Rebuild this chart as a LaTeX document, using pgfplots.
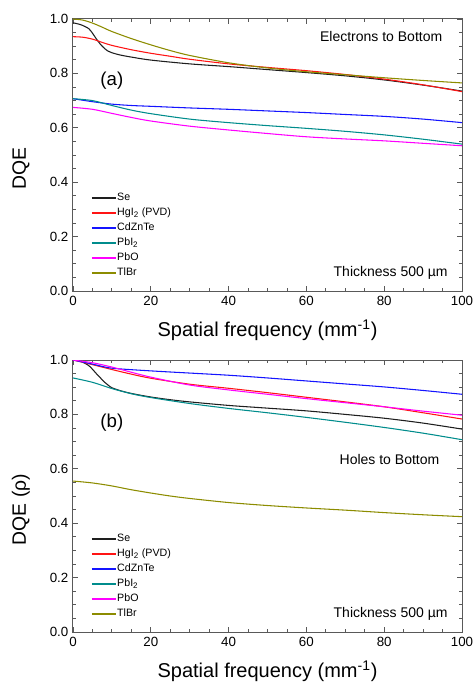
\documentclass[border=0pt]{standalone}
\usepackage{fontspec}
\setmainfont{Liberation Sans}
\usepackage{pgfplots}
\pgfplotsset{compat=1.18}

\definecolor{cSe}{RGB}{30,30,30}
\definecolor{cHg}{RGB}{255,20,20}
\definecolor{cCd}{RGB}{20,20,255}
\definecolor{cPbI}{RGB}{0,140,140}
\definecolor{cPbO}{RGB}{255,0,255}
\definecolor{cTl}{RGB}{140,140,0}

\pgfplotsset{
  dqe/.style={
    scale only axis, width=291.75pt, height=204pt,
    xmin=0, xmax=100, ymin=0, ymax=1,
    xtick={0,20,...,100}, ytick={0,0.2,0.4,0.6,0.8,1.0},
    minor x tick num=3, minor y tick num=3,
    tick align=inside, major tick length=3.75pt, minor tick length=2.25pt,
    axis line style={draw=black!65, line width=0.75pt},
    every tick/.style={draw=black!65, line width=0.6pt},
    /pgf/number format/assume math mode=true,
    yticklabel style={/pgf/number format/.cd, fixed, fixed zerofill, precision=1},
    tick label style={font=\fontsize{10}{12}\selectfont},
    xlabel={Spatial frequency (mm\textsuperscript{-1})},
    xlabel style={font=\fontsize{15}{18}\selectfont, at={(axis description cs:0.5,0)}, anchor=base, yshift=-34.3pt},
    ylabel style={font=\fontsize{14.5}{17}\selectfont, at={(axis description cs:-0.134,0.45)}, anchor=center},
    legend style={draw=none, fill=none, inner sep=0pt, font=\fontsize{8}{9}\selectfont,
      at={(axis description cs:0.0455,0.045)}, anchor=south west, row sep=2.75pt,
      nodes={text height=6pt, text depth=1.5pt, inner sep=0.5pt}},
    legend cell align=left,
    legend image code/.code={\draw[#1, line width=1.2pt] (0pt,0pt) -- (18pt,0pt);},
    every axis plot/.append style={line width=0.8pt, no markers},
  }
}

\begin{document}
\begin{tikzpicture}
\begin{axis}[dqe, ylabel={DQE}]
\addplot[color=cSe, smooth] coordinates {(0,0.986)(2,0.979)(4,0.965)(5,0.948)(6,0.927)(7,0.908)(8,0.893)(9,0.882)(10,0.876)(12,0.868)(15,0.86)(20,0.849)(30,0.835)(40,0.825)(50,0.814)(60,0.803)(70,0.791)(80,0.776)(90,0.757)(100,0.735)};
\addplot[color=cHg, smooth] coordinates {(0,0.935)(2.5,0.933)(5,0.926)(7.5,0.914)(10,0.903)(15,0.887)(20,0.874)(25,0.863)(30,0.852)(40,0.835)(50,0.822)(60,0.81)(70,0.796)(80,0.779)(90,0.758)(100,0.733)};
\addplot[color=cCd, smooth] coordinates {(0,0.707)(5,0.696)(10,0.687)(15,0.682)(20,0.679)(30,0.673)(40,0.668)(50,0.662)(60,0.656)(70,0.649)(80,0.642)(90,0.632)(100,0.619)};
\addplot[color=cPbI, smooth] coordinates {(0,0.707)(5,0.70)(10,0.682)(15,0.665)(20,0.652)(30,0.632)(40,0.619)(50,0.608)(60,0.598)(70,0.587)(80,0.574)(90,0.558)(100,0.540)};
\addplot[color=cPbO, smooth] coordinates {(0,0.675)(5,0.668)(10,0.653)(15,0.638)(20,0.625)(30,0.606)(40,0.592)(50,0.579)(60,0.567)(70,0.559)(80,0.552)(90,0.543)(100,0.534)};
\addplot[color=cTl, smooth] coordinates {(0,1.0)(2.5,0.996)(5,0.985)(7.5,0.97)(10,0.954)(15,0.928)(20,0.905)(25,0.884)(30,0.866)(40,0.839)(50,0.82)(60,0.806)(70,0.795)(80,0.784)(90,0.774)(100,0.765)};
\legend{Se, HgI\textsubscript{2} (PVD), CdZnTe, PbI\textsubscript{2}, PbO, TlBr}
\node[anchor=base east, font=\fontsize{10.5}{12}\selectfont] at (axis description cs:0.9614,0.919) {Electrons to Bottom};
\node[anchor=base east, font=\fontsize{10.5}{12}\selectfont] at (axis description cs:0.975,0.055) {Thickness 500 µm};
\node[font=\fontsize{14}{16}\selectfont] at (axis description cs:0.1,0.772) {(a)};
\end{axis}

\begin{axis}[dqe, at={(0,-255.75pt)}, ylabel={DQE (ρ)}]
\addplot[color=cSe, smooth] coordinates {(0,1.0)(2,0.995)(4,0.98)(5,0.966)(6,0.95)(7,0.935)(8,0.92)(9,0.908)(10,0.898)(12,0.888)(15,0.877)(20,0.864)(25,0.854)(30,0.846)(40,0.833)(50,0.823)(60,0.813)(70,0.8)(80,0.786)(90,0.768)(100,0.746)};
\addplot[color=cHg, smooth] coordinates {(0,1.0)(5,0.983)(10,0.965)(15,0.948)(20,0.933)(30,0.911)(40,0.896)(50,0.88)(60,0.863)(70,0.846)(80,0.828)(90,0.806)(100,0.783)};
\addplot[color=cCd, smooth] coordinates {(0,1.0)(5,0.985)(10,0.97)(20,0.96)(30,0.952)(40,0.944)(50,0.934)(60,0.923)(70,0.912)(80,0.901)(90,0.888)(100,0.874)};
\addplot[color=cPbI, smooth] coordinates {(0,0.934)(5,0.918)(10,0.895)(15,0.876)(20,0.862)(30,0.84)(40,0.822)(50,0.806)(60,0.789)(70,0.771)(80,0.752)(90,0.731)(100,0.707)};
\addplot[color=cPbO, smooth] coordinates {(0,1.0)(5,0.99)(10,0.974)(15,0.955)(20,0.937)(30,0.908)(40,0.89)(50,0.874)(60,0.858)(70,0.843)(80,0.828)(90,0.812)(100,0.797)};
\addplot[color=cTl, smooth] coordinates {(0,0.555)(5,0.548)(10,0.537)(15,0.523)(20,0.511)(25,0.5)(30,0.491)(40,0.476)(50,0.465)(60,0.456)(70,0.448)(80,0.439)(90,0.431)(100,0.424)};
\legend{Se, HgI\textsubscript{2} (PVD), CdZnTe, PbI\textsubscript{2}, PbO, TlBr}
\node[anchor=base east, font=\fontsize{10.5}{12}\selectfont] at (axis description cs:0.9537,0.615) {Holes to Bottom};
\node[anchor=base east, font=\fontsize{10.5}{12}\selectfont] at (axis description cs:0.975,0.055) {Thickness 500 µm};
\node[font=\fontsize{14}{16}\selectfont] at (axis description cs:0.1,0.77) {(b)};
\end{axis}
\pgfresetboundingbox
\path[use as bounding box] (-54.75pt,-293.25pt) rectangle (300.75pt,218.25pt);
\end{tikzpicture}
\end{document}
